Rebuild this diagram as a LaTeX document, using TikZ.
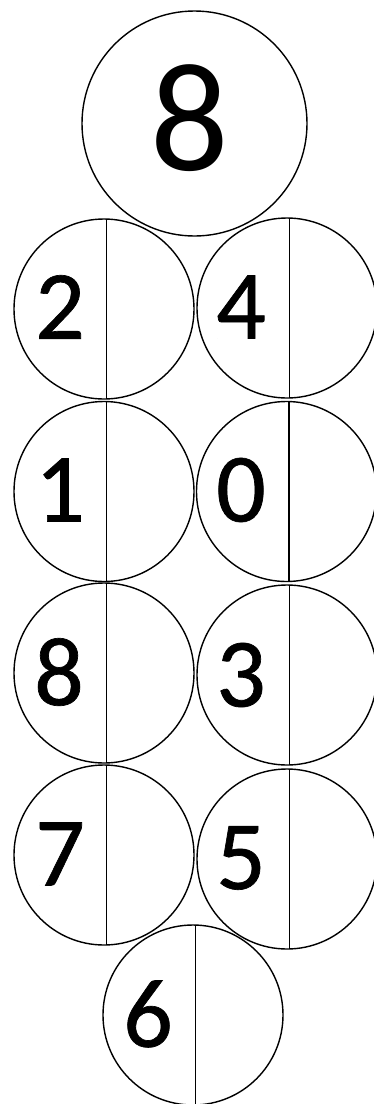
\documentclass[tikz,border=0pt]{standalone}
\usepackage{fontspec}
\setmainfont{Carlito}
\newfontfamily\heavydigits[FakeBold=0.7]{Carlito}
\begin{document}
\begin{tikzpicture}[x=1pt,y=-1pt,
  ball/.style={circle, draw, line width=1.4pt, inner sep=0pt, outer sep=0pt, minimum size=180pt},
  bigball/.style={ball, minimum size=225pt},
  digit/.style={inner sep=0pt, font=\heavydigits\fontsize{98}{98}\selectfont},
  bigdigit/.style={inner sep=0pt, font=\fontsize{155}{155}\selectfont},
  split/.style={line width=1.4pt}]
\useasboundingbox (0,0) rectangle (374,1104);
% top ball
\node[bigball] (top) at (194.5,123.5) {};
\node[bigdigit] (t8) at (190,118) {8};
% balls
\node[ball] (a1) at (104,309) {};
\node[ball] (b1) at (287,308) {};
\node[ball] (a2) at (104,491.5) {};
\node[ball] (b2) at (286.5,491.5) {};
\node[ball] (a3) at (104,673) {};
\node[ball] (b3) at (287,675) {};
\node[ball] (a4) at (104,855) {};
\node[ball] (b4) at (287,859) {};
\node[ball] (c5) at (193,1015) {};
% split lines
\foreach \n in {a1,a2,a3,a4,b1,b2,b3,b4,c5}
  \draw[split] ([xshift=2.5pt]\n.north) -- ([xshift=2.5pt]\n.south);
% digits
\node[digit] (d2) at (60,307) {2};
\node[digit] (d4) at (241,307) {4};
\node[digit] (d1) at (60,490) {1};
\node[digit] (d0) at (241,490) {0};
\node[digit] (d8) at (59,672) {8};
\node[digit] (d3) at (241,675) {3};
\node[digit] (d7) at (60,854) {7};
\node[digit] (d5) at (241,858) {5};
\node[digit] (d6) at (148,1014) {6};
\end{tikzpicture}
\end{document}
